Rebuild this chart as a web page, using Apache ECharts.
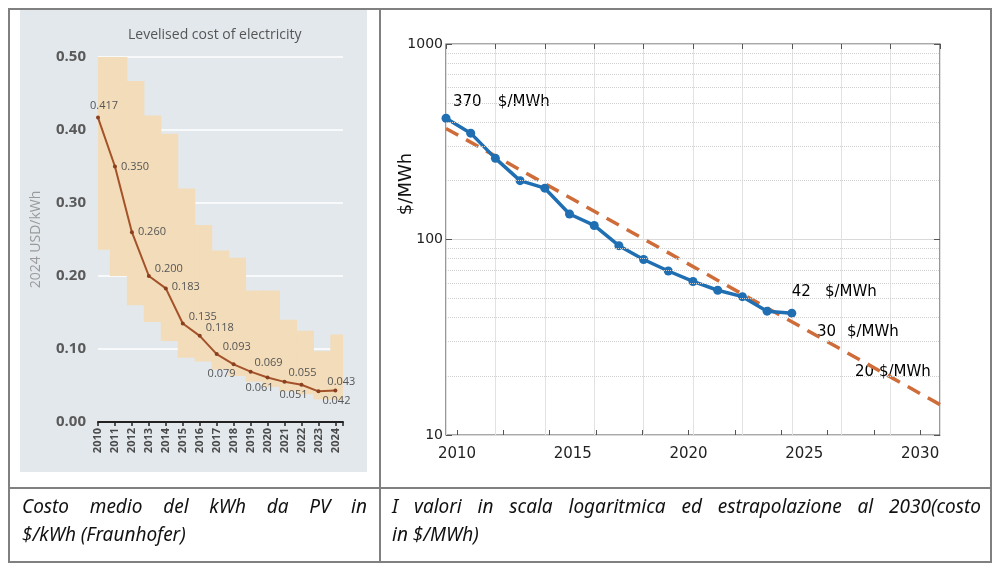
<!DOCTYPE html>
<html>
<head>
<meta charset="utf-8">
<script src="https://cdn.jsdelivr.net/npm/echarts@6/dist/echarts.min.js"></script>
<style>
html, body { margin: 0; padding: 0; background: #fff; }
#page { position: relative; width: 1000px; height: 565px; overflow: hidden; }
#panel { position: absolute; left: 20px; top: 9px; width: 347px; height: 463px; background: #e3e8ed; }
#chart { position: absolute; left: 0; top: 0; width: 1000px; height: 565px; }
.rule { position: absolute; background: #808080; }
.cap { position: absolute; top: 492px; font-family: 'Noto Sans', sans-serif;
       font-style: italic; font-size: 19px; line-height: 28px; color: #111; }
.cap .j { text-align: justify; text-align-last: justify; }
</style>
</head>
<body>
<div id="page">
  <div id="panel"></div>
  <div id="chart"></div>
  <div class="rule" style="left:8px;top:8px;width:984px;height:1.5px"></div>
  <div class="rule" style="left:8px;top:561px;width:984px;height:1.5px"></div>
  <div class="rule" style="left:8px;top:8px;width:1.5px;height:554px"></div>
  <div class="rule" style="left:990px;top:8px;width:1.5px;height:554px"></div>
  <div class="rule" style="left:379px;top:8px;width:1.5px;height:554px"></div>
  <div class="rule" style="left:8px;top:487px;width:984px;height:1.5px"></div>
  <div class="cap" style="left:22px;width:345px">
    <div class="j">Costo medio del kWh da PV in</div>
    <div>$/kWh (Fraunhofer)</div>
  </div>
  <div class="cap" style="left:392px;width:589px">
    <div class="j">I valori in scala logaritmica ed estrapolazione al 2030(costo</div>
    <div>in $/MWh)</div>
  </div>
</div>
<script>
// --- DATA: left chart (USD/kWh) ---
const years = [2010, 2011, 2012, 2013, 2014, 2015, 2016, 2017, 2018, 2019, 2020, 2021, 2022, 2023, 2024];
const lcoe = [0.417, 0.350, 0.260, 0.200, 0.183, 0.135, 0.118, 0.093, 0.079, 0.069, 0.061, 0.055, 0.051, 0.042, 0.043];
const lcoeHigh = [0.500, 0.500, 0.467, 0.420, 0.395, 0.320, 0.270, 0.235, 0.225, 0.180, 0.180, 0.140, 0.125, 0.097, 0.120];
const lcoeLow = [0.236, 0.200, 0.160, 0.137, 0.111, 0.088, 0.083, 0.072, 0.063, 0.055, 0.048, 0.042, 0.038, 0.031, 0.030];

// --- DATA: right chart ($/MWh, log scale) ---
const costMWh = [417, 350, 260, 200, 183, 135, 118, 93, 79, 69, 61, 55, 51, 43, 42];
const trendYears = [2010, 2030];
const trendCost = [370, 14.3];
const minorLevels = [20, 30, 40, 50, 60, 70, 80, 90, 200, 300, 400, 500, 600, 700, 800, 900];
const xTickYears = [2010, 2012, 2014, 2016, 2018, 2020, 2022, 2024, 2026, 2028, 2030];
const xLabelYears = [2010, 2015, 2020, 2025, 2030];

// label placement for the left line: [position, dx, dy]
const lcoeLabelPlace = [
    ['top', 6, 0], ['right', 0, 0], ['right', 0, 0], ['right', 0, -7], ['right', 0, -2],
    ['right', 0, -7], ['right', 0, -8], ['right', 0, -7], ['bottom', -12, -2], ['top', 18, 3],
    ['bottom', -8, -1], ['top', 18, 3], ['bottom', -8, -1], ['bottom', 18, -2], ['top', 6, 3]
];

// text notes on the right chart, anchored in data space (left edge of text)
const notes = [
    { text: '370', year: 2010.28, cost: 505 },
    { text: '$/MWh', year: 2012.1, cost: 505 },
    { text: '42', year: 2024.0, cost: 53.9 },
    { text: '$/MWh', year: 2025.34, cost: 53.9 },
    { text: '30', year: 2025.02, cost: 33.6 },
    { text: '$/MWh', year: 2026.23, cost: 33.6 },
    { text: '20 $/MWh', year: 2026.48, cost: 21.0, box: true }
];

const chart = echarts.init(document.getElementById('chart'));

function renderBand(params, api) {
    const yr = api.value(0);
    const p0 = api.coord([yr - 0.3, api.value(2)]);
    const p1 = api.coord([yr + 0.7, api.value(1)]);
    const rect = echarts.graphic.clipRectByRect(
        { x: p0[0], y: p0[1], width: p1[0] - p0[0] + 0.6, height: p1[1] - p0[1] },
        { x: params.coordSys.x, y: params.coordSys.y, width: params.coordSys.width, height: params.coordSys.height }
    );
    if (!rect) return;
    return { type: 'rect', shape: rect, style: { fill: '#f3dcb9' } };
}

const option = {
    animation: false,
    title: [{
        text: 'Levelised cost of electricity', left: 123, top: 23,
        textStyle: { fontFamily: 'Open Sans', fontSize: 14, fontWeight: 'normal', color: '#555' }
    }],
    graphic: [{
        type: 'text', x: 406, y: 184, rotation: Math.PI / 2,
        style: { text: '$/MWh', fontFamily: 'DejaVu Sans', fontSize: 18, fill: '#111', align: 'center', verticalAlign: 'middle' }
    }],
    grid: [
        { left: 98, right: 657, top: 57, bottom: 143 },
        { left: 446, right: 60, top: 44, bottom: 130, show: true, backgroundColor: '#fff', borderColor: '#555', borderWidth: 1.2 }
    ],
    xAxis: [
        {
            gridIndex: 0, type: 'value', min: 2010, max: 2024.45, interval: 1,
            axisLine: { lineStyle: { color: '#222', width: 2 } },
            axisTick: { length: 4, lineStyle: { color: '#222', width: 1.5 } },
            axisLabel: { rotate: 90, margin: 6, fontFamily: 'Open Sans', fontSize: 11, fontWeight: 'bold', color: '#4a4a4a',
                formatter: v => (v % 1 === 0 ? String(v) : '') },
            splitLine: { show: false }
        },
        {
            gridIndex: 1, type: 'value', position: 'top', min: 2010, max: 2030, interval: 2,
            axisLine: { show: false },
            axisTick: { inside: true, length: 5, lineStyle: { color: '#555' } },
            axisLabel: { show: false },
            splitLine: { show: true, lineStyle: { color: '#e2e2e2' } }
        },
        {
            gridIndex: 1, type: 'value', position: 'bottom', min: 2009.525, max: 2030.86,
            axisLine: { show: false },
            axisTick: { show: true, inside: true, length: 5, customValues: xTickYears, lineStyle: { color: '#555' } },
            axisLabel: { customValues: xLabelYears, margin: 12, fontFamily: 'DejaVu Sans', fontSize: 15, color: '#222',
                formatter: v => String(Math.round(v)) },
            splitLine: { show: false }
        }
    ],
    yAxis: [
        {
            gridIndex: 0, type: 'value', min: 0, max: 0.5, interval: 0.1,
            name: '2024 USD/kWh', nameLocation: 'middle', nameGap: 55,
            nameTextStyle: { fontFamily: 'Open Sans', fontSize: 14, color: '#9a9a9a' },
            axisLine: { show: false }, axisTick: { show: false },
            axisLabel: { margin: 12, fontFamily: 'Open Sans', fontSize: 15, fontWeight: 'bold', color: '#5a5a5a', formatter: v => v.toFixed(2) },
            splitLine: { lineStyle: { color: '#ffffff', width: 1.5 } }
        },
        {
            gridIndex: 1, type: 'log', logBase: 10, min: 10, max: 1000,
            axisLine: { show: false },
            axisTick: { inside: true, length: 6, lineStyle: { color: '#555' } },
            axisLabel: { margin: 3, fontFamily: 'DejaVu Sans', fontSize: 14, color: '#222',
                formatter: v => String(Math.round(v)) },
            splitLine: { lineStyle: { color: '#d9d9d9' } }
        },
        {
            gridIndex: 1, type: 'log', logBase: 10, min: 10, max: 1000, position: 'right',
            axisLine: { show: false },
            axisTick: { inside: true, length: 6, lineStyle: { color: '#555' } },
            axisLabel: { show: false },
            splitLine: { show: false }
        }
    ],
    series: [
        {
            name: 'range', type: 'custom', xAxisIndex: 0, yAxisIndex: 0,
            renderItem: renderBand,
            data: years.map((y, i) => [y, lcoeLow[i], lcoeHigh[i]]),
            z: 1
        },
        {
            name: 'LCOE', type: 'line', xAxisIndex: 0, yAxisIndex: 0,
            data: years.map((y, i) => ({
                value: [y, lcoe[i]],
                label: { position: lcoeLabelPlace[i][0], offset: [lcoeLabelPlace[i][1], lcoeLabelPlace[i][2]] }
            })),
            symbol: 'circle', symbolSize: 4,
            lineStyle: { color: '#a3522a', width: 2 },
            itemStyle: { color: '#8a4020' },
            label: { show: true, distance: 4, fontFamily: 'Open Sans', fontSize: 11, color: '#555',
                formatter: p => p.value[1].toFixed(3) },
            z: 3
        },
        {
            name: 'minor grid', type: 'line', xAxisIndex: 1, yAxisIndex: 1, data: [], z: 0,
            markLine: {
                silent: true, symbol: ['none', 'none'], label: { show: false },
                lineStyle: { type: 'dotted', color: '#cfcfcf', width: 1 },
                data: minorLevels.map(v => ({ yAxis: v }))
            }
        },
        {
            name: 'notes', type: 'scatter', xAxisIndex: 1, yAxisIndex: 1, symbolSize: 0, z: 1,
            itemStyle: { opacity: 1 },
            data: notes.map(n => ({
                value: [n.year, n.cost],
                label: n.box ? { backgroundColor: '#fff', padding: [3, 2] } : {}
            })),
            label: { show: true, position: 'right', distance: 0, fontFamily: 'DejaVu Sans', fontSize: 15, color: '#000', opacity: 1,
                formatter: p => notes[p.dataIndex].text }
        },
        {
            name: 'trend', type: 'line', xAxisIndex: 1, yAxisIndex: 1,
            data: trendYears.map((y, i) => [y, trendCost[i]]),
            symbol: 'none',
            lineStyle: { color: '#cf6d3a', width: 3.5, type: [14, 9] },
            z: 2
        },
        {
            name: 'cost', type: 'line', xAxisIndex: 1, yAxisIndex: 1,
            data: years.map((y, i) => [y, costMWh[i]]),
            symbol: 'circle', symbolSize: 9,
            lineStyle: { color: '#1f6fb2', width: 3.5 },
            itemStyle: { color: '#1f6fb2' },
            z: 3
        }
    ]
};

chart.setOption(option);
</script>
</body>
</html>
